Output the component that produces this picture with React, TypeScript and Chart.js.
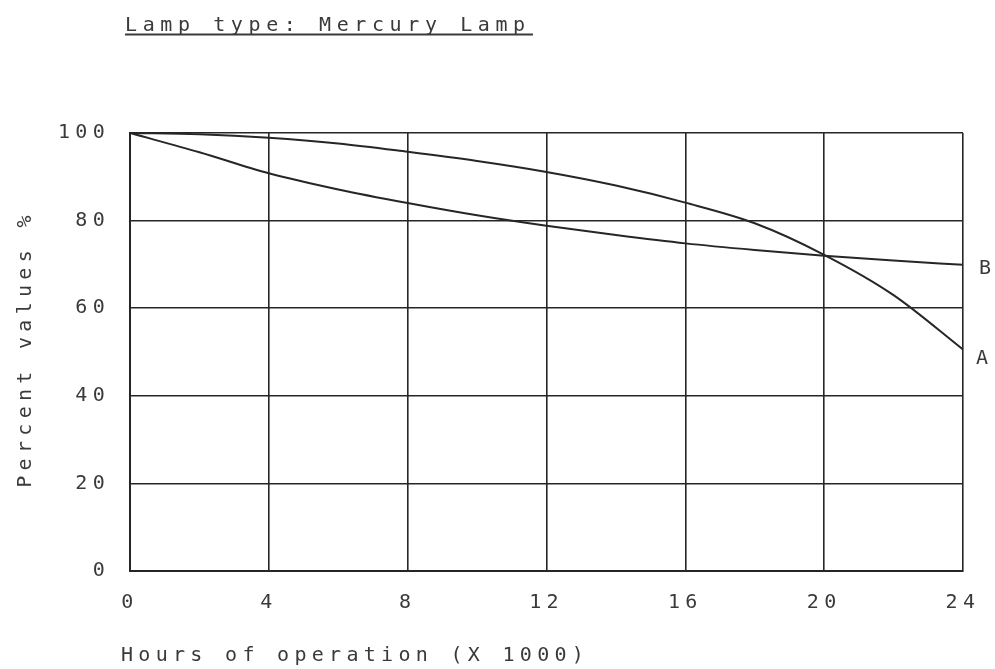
import React, { useEffect, useRef } from "react";
import { Chart, registerables } from "chart.js";

Chart.register(...registerables);

const hours = [0, 2, 4, 6, 8, 10, 12, 14, 16, 18, 20, 22, 24];
const curveA = [100, 99.7, 98.9, 97.6, 95.7, 93.6, 91.1, 88.0, 84.1, 79.4, 72.2, 63.0, 50.6];
const curveB = [100, 95.6, 90.8, 87.1, 84.0, 81.2, 78.8, 76.7, 74.8, 73.3, 72.0, 70.9, 69.9];
const xTicks = [0, 4, 8, 12, 16, 20, 24];
const yTicks = [0, 20, 40, 60, 80, 100];
const titleText = "Lamp type: Mercury Lamp";
const xTitle = "Hours of operation (X 1000)";
const yTitle = "Percent values %";
const seriesLabels = ["A", "B"];

const FONT = '"DejaVu Sans Mono", monospace';
const FSIZE = 20;
const SP = 5.3;
const TEXT = "#3a3a3a";
const INK = "#262626";

export default function App() {
  const ref = useRef<HTMLCanvasElement | null>(null);

  useEffect(() => {
    const canvas = ref.current;
    if (!canvas) return;

    const spacingPlugin = {
      id: "spacing",
      beforeDraw(chart: any) {
        (chart.ctx as any).letterSpacing = `${SP}px`;
      },
    };

    const textPlugin = {
      id: "texts",
      afterDraw(chart: any) {
        const ctx = chart.ctx as CanvasRenderingContext2D;
        const area = chart.chartArea;
        const yScale = chart.scales.y;
        ctx.save();
        ctx.font = `${FSIZE}px ${FONT}`;
        ctx.fillStyle = TEXT;
        ctx.textAlign = "left";
        ctx.textBaseline = "alphabetic";
        // title
        (ctx as any).letterSpacing = "5.6px";
        ctx.fillText(titleText, 125, 31);
        ctx.strokeStyle = TEXT;
        ctx.lineWidth = 2;
        ctx.beginPath();
        ctx.moveTo(125, 34.5);
        ctx.lineTo(533, 34.5);
        ctx.stroke();
        (ctx as any).letterSpacing = `${SP}px`;
        // x title
        ctx.fillText(xTitle, 121, 661);
        // y title
        ctx.save();
        ctx.translate(31, (area.top + area.bottom) / 2);
        ctx.rotate(-Math.PI / 2);
        ctx.textAlign = "center";
        ctx.fillText(yTitle, 3, 0);
        ctx.restore();
        // series labels
        ctx.textBaseline = "middle";
        const lastA = curveA[curveA.length - 1];
        const lastB = curveB[curveB.length - 1];
        ctx.fillText(seriesLabels[0], area.right + 13, yScale.getPixelForValue(lastA) + 9);
        ctx.fillText(seriesLabels[1], area.right + 16, yScale.getPixelForValue(lastB) + 4);
        ctx.restore();
      },
    };

    const chart = new Chart(canvas, {
      type: "line",
      data: {
        datasets: [
          {
            label: "A",
            data: hours.map((h, i) => ({ x: h, y: curveA[i] })),
            borderColor: INK,
            borderWidth: 2,
            pointRadius: 0,
            cubicInterpolationMode: "monotone",
            fill: false,
          },
          {
            label: "B",
            data: hours.map((h, i) => ({ x: h, y: curveB[i] })),
            borderColor: INK,
            borderWidth: 2,
            pointRadius: 0,
            cubicInterpolationMode: "monotone",
            fill: false,
          },
        ],
      },
      options: {
        animation: false,
        responsive: false,
        devicePixelRatio: 1,
        layout: { padding: { top: 133, right: 31, left: 0, bottom: 0 } },
        plugins: {
          legend: { display: false },
          tooltip: { enabled: false },
          title: { display: false },
        },
        scales: {
          x: {
            type: "linear",
            min: 0,
            max: 24,
            afterFit(scale: any) {
              scale.height = 98;
            },
            afterBuildTicks(scale: any) {
              scale.ticks = xTicks.map((v) => ({ value: v }));
            },
            grid: { color: INK, lineWidth: 1.6, drawTicks: false },
            border: { color: INK, width: 2 },
            ticks: {
              color: TEXT,
              font: { family: FONT, size: FSIZE },
              padding: 20,
              maxRotation: 0,
              autoSkip: false,
              callback: (v: any) => String(v),
            },
          },
          y: {
            type: "linear",
            min: 0,
            max: 100,
            afterFit(scale: any) {
              scale.width = 130;
            },
            afterBuildTicks(scale: any) {
              scale.ticks = yTicks.map((v) => ({ value: v }));
            },
            grid: { color: INK, lineWidth: 1.6, drawTicks: false },
            border: { color: INK, width: 2 },
            ticks: {
              color: TEXT,
              font: { family: FONT, size: FSIZE },
              padding: 20,
              autoSkip: false,
              callback: (v: any) => String(v),
            },
          },
        },
      },
      plugins: [spacingPlugin, textPlugin],
    } as any);

    return () => chart.destroy();
  }, []);

  return (
    <div style={{ position: "absolute", left: 0, top: 0, width: 995, height: 669, background: "#fff" }}>
      <canvas ref={ref} width={995} height={669} />
    </div>
  );
}
